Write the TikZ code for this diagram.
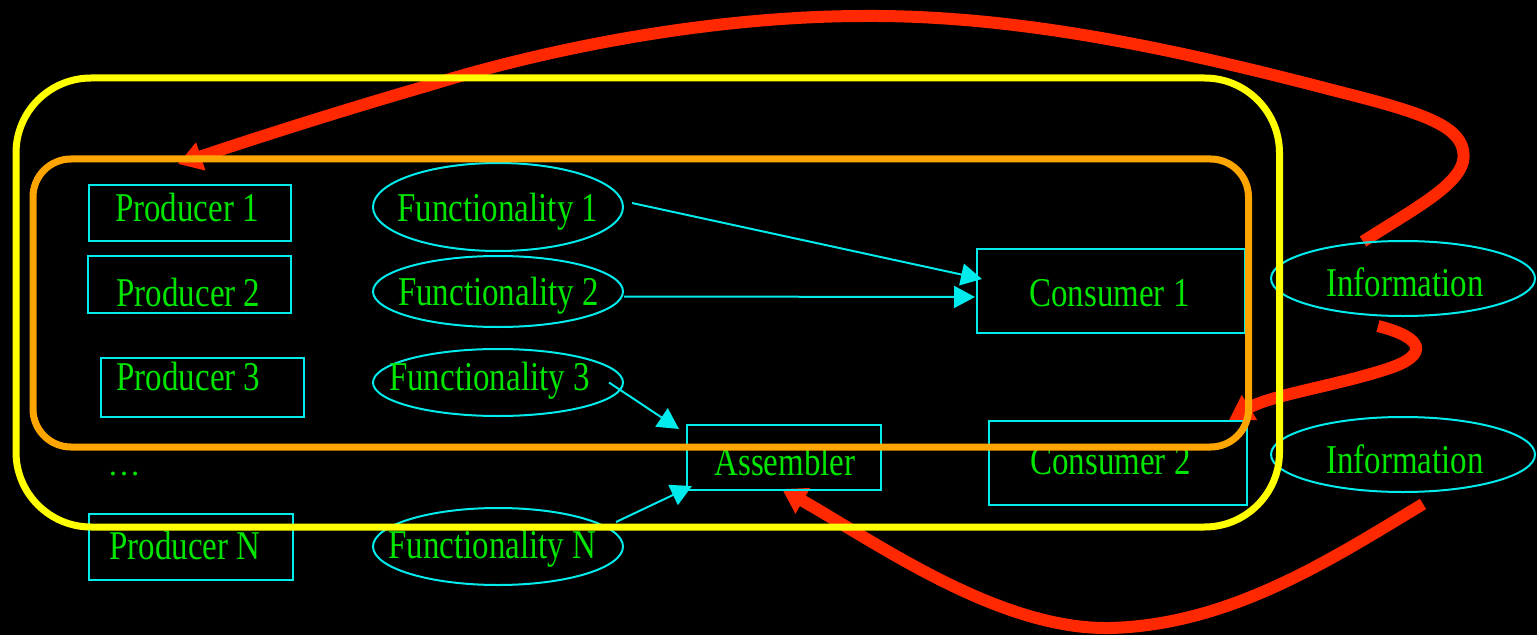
\documentclass[tikz,border=0pt]{standalone}
\usepackage{fontspec}
\usepackage{graphicx}
\setmainfont{Liberation Serif}
\usetikzlibrary{arrows.meta,shapes.geometric,calc}

\definecolor{cyanline}{RGB}{0,235,235}
\definecolor{textgreen}{RGB}{0,230,0}
\definecolor{outeryellow}{RGB}{255,255,0}
\definecolor{innerorange}{RGB}{255,165,0}
\definecolor{infored}{RGB}{255,40,0}

\pgfdeclarelayer{back}
\pgfdeclarelayer{flow}
\pgfsetlayers{back,flow,main}

% tall, slightly condensed lettering
\newcommand\tall[1]{\scalebox{1}[1.24]{#1}}

\begin{document}
\begin{tikzpicture}[x=1bp,y=-1bp,
  box/.style={draw=cyanline, line width=2bp, rectangle, inner sep=0pt},
  oval/.style={draw=cyanline, line width=2bp, ellipse, inner sep=0pt},
  txt/.style={text=textgreen, font=\fontsize{33bp}{36bp}\selectfont,
              inner sep=0pt, text height=27bp, text depth=0bp},
  link/.style={draw=cyanline, line width=2bp, -{Triangle[length=21bp,width=22bp]}},
  infoflow/.style={draw=infored, line width=12bp, -{Triangle[length=24bp,width=28bp]}},
  group/.style={line width=7bp, rounded corners=#1}]

\useasboundingbox (0,0) rectangle (1537,635);
\begin{pgfonlayer}{back}
  \fill[black] (0,0) rectangle (1537,635);
\end{pgfonlayer}

% producers
\node[box, minimum width=202bp, minimum height=56bp,
      label={[txt, shift={(-2.5,-4.5)}]center:\tall{Producer 1}}] (p1) at (189.5,213) {};
\node[box, minimum width=203bp, minimum height=57bp,
      label={[txt, shift={(-1,9)}]center:\tall{Producer 2}}] (p2) at (189.5,284) {};
\node[box, minimum width=203bp, minimum height=59bp,
      label={[txt, shift={(-14,-10.5)}]center:\tall{Producer 3}}] (p3) at (202.5,387.5) {};
\node[text=textgreen, font=\fontsize{33bp}{36bp}\selectfont, inner sep=0pt, anchor=base]
      (dots) at (124,475) {…};
\node[box, minimum width=204bp, minimum height=66bp,
      label={[txt, shift={(-6,-1)}]center:\tall{Producer N}}] (pN) at (191,547) {};

% functionalities
\node[oval, minimum width=250bp, minimum height=88bp,
      label={[txt, shift={(0,1.5)}]center:\tall{Functionality 1}}] (f1) at (498,207) {};
\node[oval, minimum width=250bp, minimum height=71bp,
      label={[txt, shift={(0.5,0.5)}]center:\tall{Functionality 2}}] (f2) at (498,291.5) {};
\node[oval, minimum width=250bp, minimum height=67bp,
      label={[txt, shift={(-8.5,-6)}]center:\tall{Functionality 3}}] (f3) at (498,382.5) {};
\node[oval, minimum width=250bp, minimum height=77bp,
      label={[txt, shift={(-5.5,-1.5)}]center:\tall{Functionality N}}] (fN) at (498,546.5) {};

% consumers and assembler
\node[box, minimum width=268bp, minimum height=84bp,
      label={[txt, shift={(-1.5,1.5)}]center:\tall{Consumer 1}}] (c1) at (1111,291) {};
\node[box, minimum width=258bp, minimum height=84bp,
      label={[txt, shift={(-7.5,-2.5)}]center:\tall{Consumer 2}}] (c2) at (1118,463) {};
\node[box, minimum width=194bp, minimum height=65bp,
      label={[txt, shift={(1,4.5)}]center:\tall{Assembler}}] (asm) at (784,457.5) {};

% information
\node[oval, minimum width=264bp, minimum height=75bp,
      label={[txt, shift={(2,4)}]center:\tall{Information}}] (i1) at (1403,278.5) {};
\node[oval, minimum width=264bp, minimum height=75bp,
      label={[txt, shift={(2,5)}]center:\tall{Information}}] (i2) at (1403,454.5) {};

% functionality links
\draw[link] ($(f1.east)+(8,-4)$) -- ($(c1.west)+(6,-12)$);
\draw[link] ($(f2.east)+(0,5)$) -- ($(c1.west)+(-1,6)$);
\draw[link] ($(f3.east)+(-15,0)$) -- ($(asm.north west)+(-7,5)$);
\draw[link] ($(fN.east)+(-8,-24.5)$) -- ($(asm.south west)+(6,-5)$);

% information feedback
\begin{pgfonlayer}{flow}
  \draw[infoflow] ($(i1.north)+(-40,1.5)$)
      .. controls (1420,205) and (1470,180) .. (1463,150)
      .. controls (1458,125) and (1420,112) .. (1340,92)
      .. controls (1180,50) and (1020,15) .. (865,16)
      .. controls (720,16) and (560,45) .. (430,85)
      .. controls (330,114) and (250,140) .. ($(p1.north)+(-11.5,-20)$);
  \draw[infoflow] ($(i1.south)+(-25,9)$)
      .. controls (1425,338) and (1428,355) .. (1390,368)
      .. controls (1340,385) and (1270,395) .. ($(c2.north east)+(-19,0)$);
  \draw[infoflow] ($(i2.south)+(20,11)$)
      .. controls (1330,560) and (1230,625) .. (1110,628)
      .. controls (1000,630) and (880,545) .. ($(asm.south)+(-2,-2)$);
\end{pgfonlayer}

% groupings
\draw[group=75bp, outeryellow] (16,78) rectangle (1279.5,527);
\draw[group=38bp, innerorange] (33,159) rectangle (1248.5,447);

\end{tikzpicture}
\end{document}
